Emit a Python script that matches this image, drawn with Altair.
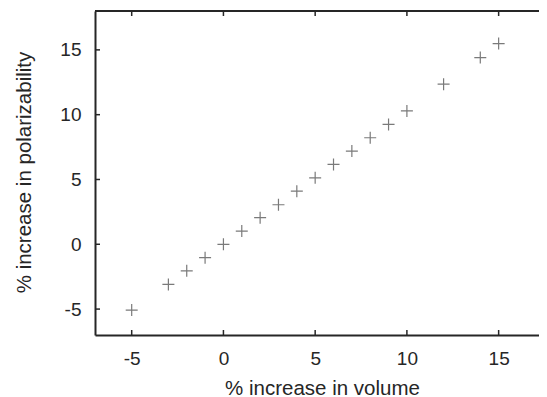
import altair as alt
import pandas as pd

# data
volume = [-5, -3, -2, -1, 0, 1, 2, 3, 4, 5, 6, 7, 8, 9, 10, 12, 14, 15]
polar = [-5.08, -3.1, -2.05, -1.03, 0.0, 1.02, 2.05, 3.05, 4.1, 5.13, 6.16, 7.19, 8.22, 9.25, 10.29, 12.35, 14.41, 15.49]
x_ticks = [-5, 0, 5, 10, 15]
y_ticks = [-5, 0, 5, 10, 15]

W, H = 444, 324
XDOM = [-7, 17.2]
YDOM = [-7, 18]
FONT = "Liberation Sans"
DARK = "#262626"

df = pd.DataFrame({"v": volume, "p": polar})
xt = pd.DataFrame({"t": x_ticks})
yt = pd.DataFrame({"t": y_ticks})

xs = alt.Scale(domain=XDOM, nice=False, zero=False)
ys = alt.Scale(domain=YDOM, nice=False, zero=False)

points = alt.Chart(df).mark_point(
    shape="M-1,0L1,0M0,-1L0,1", size=144, filled=False,
    stroke="#7a7a7a", strokeWidth=1.2, opacity=1
).encode(
    x=alt.X("v:Q", scale=xs, axis=alt.Axis(
        values=x_ticks, ticks=False, tickSize=0, grid=False,
        domainColor=DARK, domainWidth=2, labelPadding=29,
        labelBaseline="alphabetic", labelExpr="'' + datum.value",
        title="% increase in volume", titleX=227, titleY=59,
        titleBaseline="alphabetic", titleAlign="center")),
    y=alt.Y("p:Q", scale=ys, axis=alt.Axis(
        values=y_ticks, ticks=False, tickSize=0, grid=False,
        domainColor=DARK, domainWidth=2, labelPadding=14,
        labelExpr="'' + datum.value",
        title="% increase in polarizability", titleX=-65, titleY=161,
        titleAngle=-90, titleBaseline="alphabetic", titleAlign="center")),
)

top_line = alt.Chart(xt).mark_rule(color=DARK, strokeWidth=2).encode(
    x=alt.value(0), x2=alt.value(W), y=alt.value(0))

bottom_ticks = alt.Chart(xt).mark_rule(color=DARK, strokeWidth=1.5).encode(
    x=alt.X("t:Q", scale=xs), y=alt.value(H), y2=alt.value(H - 5))
top_ticks = alt.Chart(xt).mark_rule(color=DARK, strokeWidth=1.5).encode(
    x=alt.X("t:Q", scale=xs), y=alt.value(0), y2=alt.value(5))
left_ticks = alt.Chart(yt).mark_rule(color=DARK, strokeWidth=1.5).encode(
    y=alt.Y("t:Q", scale=ys), x=alt.value(0), x2=alt.value(5))

chart = alt.layer(points, top_line, bottom_ticks, top_ticks, left_ticks).properties(
    width=W, height=H,
    background="white",
    autosize=alt.AutoSizeParams(type="none"),
    padding={"left": 87, "top": 3, "right": 0, "bottom": 63},
).configure_view(stroke=None).configure_axis(
    labelFont=FONT, labelFontSize=19, labelColor=DARK,
    titleFont=FONT, titleFontSize=20.5, titleColor=DARK, titleFontWeight="normal",
)

chart.save("out.html", embed_options={"renderer": "svg", "actions": False})
